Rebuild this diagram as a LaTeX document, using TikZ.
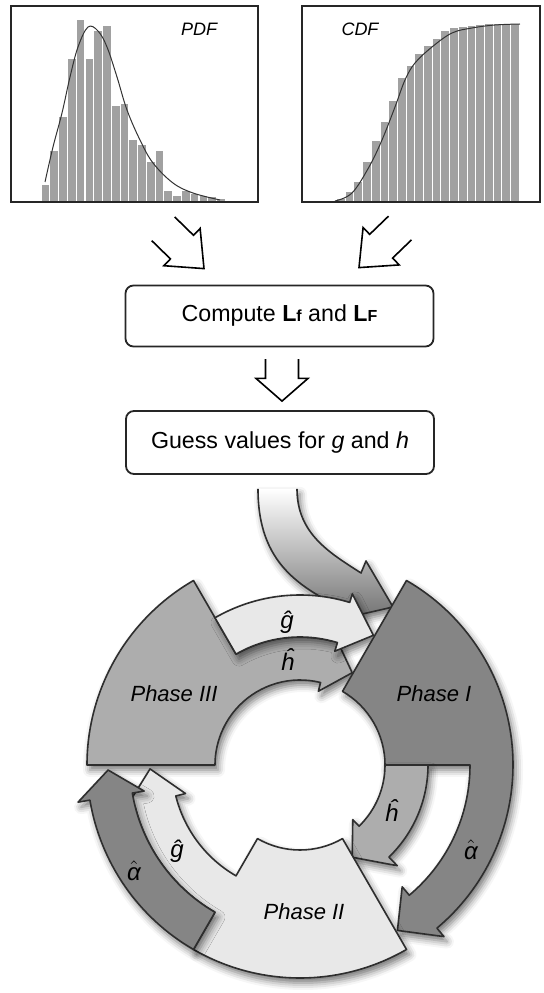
\documentclass[tikz,border=0pt]{standalone}
\usepackage{fontspec}
\setmainfont{Liberation Sans}
\usetikzlibrary{calc,shadows.blur}

\definecolor{darkph}{gray}{0.52}
\definecolor{midph}{gray}{0.68}
\definecolor{lightph}{gray}{0.91}
\definecolor{barfill}{gray}{0.63}
\definecolor{edge}{gray}{0.18}

\begin{document}
\begin{tikzpicture}
[x=0.5pt,y=0.5pt,
 panel/.style={draw=black!85,line width=1pt,minimum height=98pt,inner sep=0pt},
 box/.style={draw=black!85,line width=0.9pt,rounded corners=4pt,minimum width=154pt,minimum height=30.5pt,font=\fontsize{11.6}{14}\selectfont},
 hollow/.style={draw=black,line width=0.8pt,line join=miter},
 soft/.style={blur shadow={shadow xshift=1.5pt,shadow yshift=-2.5pt,shadow blur radius=3.5pt,shadow opacity=55}},
 part/.style={draw=edge,line width=0.8pt,line join=round,soft},
 phase/.style={font=\fontsize{11}{13}\selectfont\itshape},
 param/.style={font=\fontsize{12}{14}\selectfont\itshape,inner sep=0pt},
 curve/.style={draw=black!80,line width=0.5pt},
 openarrow/.pic={\draw[hollow] (-#1,16.5) -- ({-0.54*#1},16.5) -- ({-0.54*#1},26) -- (0,0) -- ({-0.54*#1},-26) -- ({-0.54*#1},-16.5) -- (-#1,-16.5);}]
\useasboundingbox (0,0) rectangle (543,993);

% histograms
\foreach \h [count=\i from 0] in {16,50,84,142,181,142,170,175,95,97,61,56,39,50,10,5,10,7,5,4,2}
  \fill[barfill] ({41.7+8.77*\i},792) rectangle ++(7.7,\h);
\draw[curve] plot[smooth,tension=0.6] coordinates {(45,811) (53,846) (62,880) (70,916) (78,946) (88,966) (98,962) (107,946) (117,916) (127,883) (140,853) (153,830) (173,810) (193,800) (220,793)};
\foreach \h [count=\i from 0] in {2,9,19,39,60,79,100,123,135,147,155,162,170,173,174,175,176,177,177,177,177}
  \fill[barfill] ({337+8.7*\i},792) rectangle ++(7.7,\h);
\draw[curve] plot[smooth,tension=0.6] coordinates {(335,792) (352,800) (369,826) (382,853) (395,886) (405,913) (415,930) (432,946) (452,960) (472,965) (495,968) (520,969)};
\node[panel,minimum width=123.5pt] (pdfpanel) at (134.5,889) {};
\node[panel,minimum width=119pt] (cdfpanel) at (421,889) {};
\node[font=\fontsize{9}{11}\selectfont\itshape] (pdflbl) at (199,964) {PDF};
\node[font=\fontsize{9}{11}\selectfont\itshape] (cdflbl) at (360,964) {CDF};

% boxes
\node[box] (compute) at (279.5,677) {Compute \textbf{L}{\fontsize{8}{10}\selectfont\bfseries f} and \textbf{L}{\fontsize{8}{10}\selectfont\bfseries F}};
\node[box,minimum height=31.5pt] (guess) at (280,550.5) {Guess values for \textit{g} and \textit{h}};
\pic[rotate=-44.3] at ($(compute.north)+(-75.5,16)$) {openarrow=57};
\pic[rotate=-136] at ($(compute.north)+(79.5,17)$) {openarrow=57};
\pic[rotate=-90] at ($(guess.north)+(2,9)$) {openarrow=42};

% incoming arrow
\coordinate (inL) at ($(guess.south)+(-22,-14)$);
\coordinate (inR) at ($(guess.south)+(17,-14)$);
\coordinate (intip) at (393,386);
\path[top color=white,bottom color=black!55,soft] (inL) .. controls +(0,-75) and (300,405) .. (350,381) -- (345,375) -- (intip) -- (366,432) -- (361,420) .. controls (330,440) and ($(inR)+(0,-45)$) .. (inR) -- cycle;
\draw[edge,line width=0.8pt,line join=round] (inL) .. controls +(0,-75) and (300,405) .. (350,381) -- (345,375) -- (intip) -- (366,432) -- (361,420) .. controls (330,440) and ($(inR)+(0,-45)$) .. (inR);

% the cycle
\begin{scope}[shift={(300,228)}]
\def\rA{85}\def\rB{128}\def\rC{170}\def\rD{213}
% phase III with h
\draw[part,fill=midph] (180:\rD) arc[start angle=180,end angle=120,radius=\rD] -- (120:\rB) arc[start angle=120,end angle=76,radius=\rB] -- (76:{\rB+9}) -- (60.5:106) -- (76:{\rA-9}) -- (76:\rA) arc[start angle=76,end angle=180,radius=\rA] -- cycle;
% g to phase I
\draw[part,fill=lightph] (120:\rB) -- (120:\rC) arc[start angle=120,end angle=73,radius=\rC] -- (73:{\rC+9}) -- (60.5:149) -- (73:{\rB-9}) -- (73:\rB) arc[start angle=73,end angle=120,radius=\rB] -- cycle;
% phase I with alpha
\draw[part,fill=darkph] (60:\rA) -- (60:\rD) arc[start angle=60,end angle=-50,radius=\rD] -- (-50:{\rD+11}) -- (-59.5:192) -- (-50:{\rC-11}) -- (-50:\rC) arc[start angle=-50,end angle=0,radius=\rC] -- (0:\rA) arc[start angle=0,end angle=60,radius=\rA] -- cycle;
% h to phase II
\draw[part,fill=midph] (0:\rA) -- (0:\rB) arc[start angle=0,end angle=-46,radius=\rB] -- (-46:{\rB+12}) -- (-60.5:106) -- (-46:{\rA-9}) -- (-46:\rA) arc[start angle=-46,end angle=0,radius=\rA] -- cycle;
% phase II with g
\draw[part,fill=lightph] (-60:\rA) -- (-60:\rD) arc[start angle=-60,end angle=-120,radius=\rD] -- (-120:\rC) arc[start angle=-120,end angle=-166,radius=\rC] -- (-166:{\rC+10}) -- (-178.5:150) -- (-166:{\rB-10}) -- (-166:\rB) arc[start angle=-166,end angle=-120,radius=\rB] -- (-120:\rA) arc[start angle=-120,end angle=-60,radius=\rA] -- cycle;
% alpha to phase III
\draw[part,fill=darkph] (-120:\rC) -- (-120:\rD) arc[start angle=-120,end angle=-170.5,radius=\rD] -- (-170.5:{\rD+12}) -- (-178.5:192) -- (-170.5:{\rC-12}) -- (-170.5:\rC) arc[start angle=-170.5,end angle=-120,radius=\rC] -- cycle;
\end{scope}

\node[phase] (ph3) at (174,299) {Phase III};
\node[phase] (ph1) at (434,299) {Phase I};
\node[phase] (ph2) at (304,81) {Phase II};
\node[param] (gtop) at (287,371) {ĝ};
\node[param] (htop) at (288,333) {ĥ};
\node[param] (hright) at (392,182) {ĥ};
\node[param] (aright) at (471,143) {$\hat{\mbox{\itshape α}}$};
\node[param] (gleft) at (177,142) {ĝ};
\node[param] (aleft) at (134,122) {$\hat{\mbox{\itshape α}}$};
\end{tikzpicture}
\end{document}
